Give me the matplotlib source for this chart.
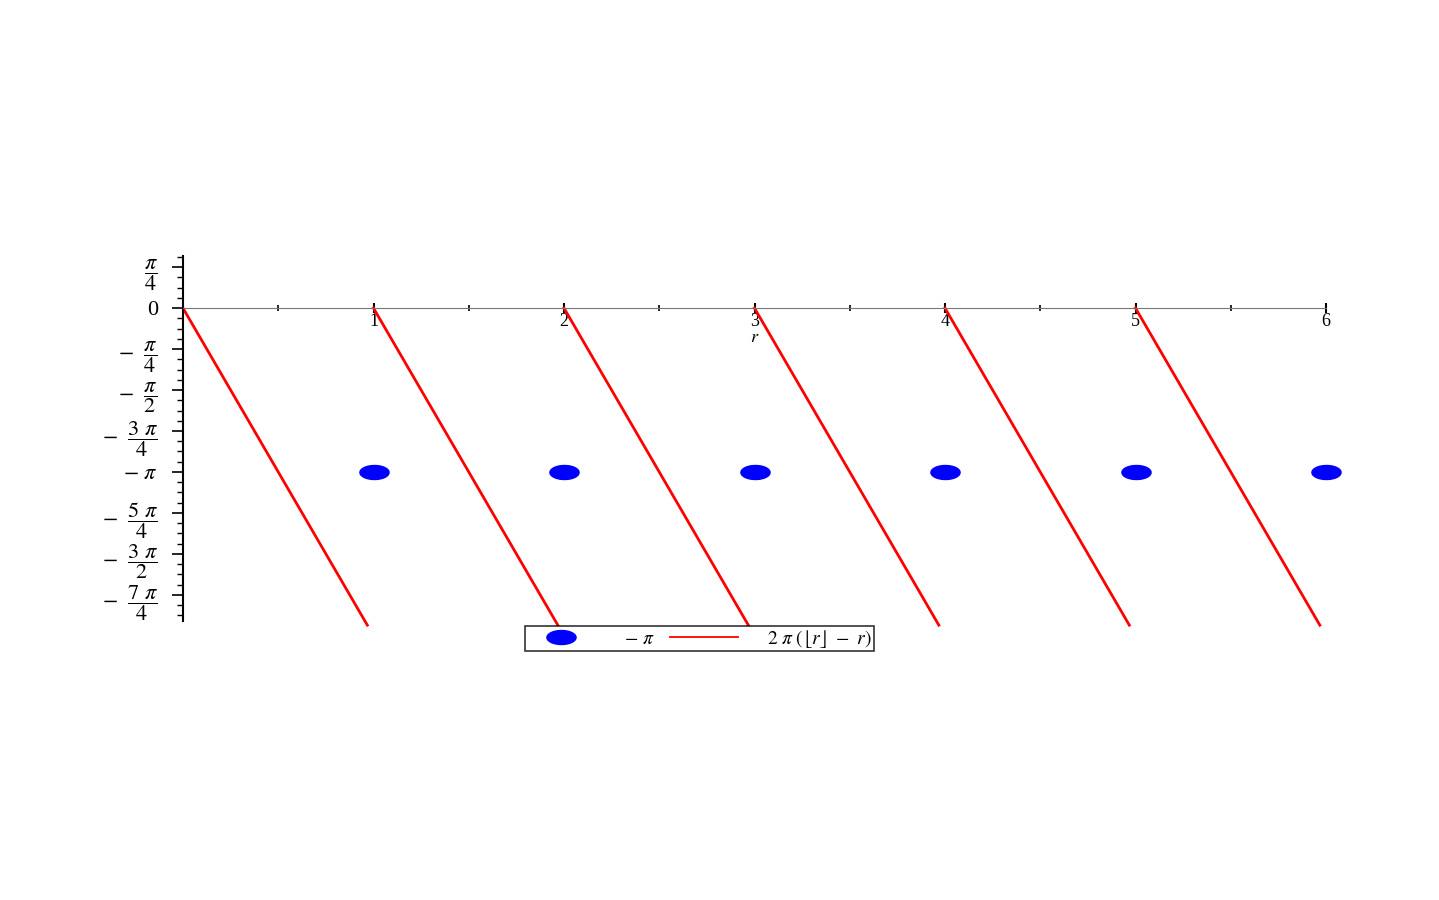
import numpy as np
import matplotlib
matplotlib.use('Agg')
import matplotlib.pyplot as plt
from matplotlib.path import Path
from matplotlib.ticker import FixedLocator, MultipleLocator

plt.rcParams['mathtext.fontset'] = 'stix'
plt.rcParams['font.family'] = ['Liberation Serif', 'DejaVu Serif']

# Data
point_r = [1, 2, 3, 4, 5, 6]
point_val = [-np.pi] * 6
seg_starts = [0, 1, 2, 3, 4, 5]
ytick_vals = [np.pi / 4, 0, -np.pi / 4, -np.pi / 2, -3 * np.pi / 4, -np.pi,
              -5 * np.pi / 4, -3 * np.pi / 2, -7 * np.pi / 4]
ytick_labels = [r'$\dfrac{\pi}{4}$', '0', r'$-\ \ \dfrac{\pi}{4}$', r'$-\ \ \dfrac{\pi}{2}$',
                r'$-\ \ \dfrac{3\ \pi}{4}$', r'$-\ \pi$', r'$-\ \ \dfrac{5\ \pi}{4}$',
                r'$-\ \ \dfrac{3\ \pi}{2}$', r'$-\ \ \dfrac{7\ \pi}{4}$']
xtick_vals = [1, 2, 3, 4, 5, 6]

W, H = 1439, 900
fig = plt.figure(figsize=(W / 100, H / 100), dpi=100)
ax = fig.add_axes([183 / W, 1 - 621 / H, (1326 - 183) / W, (621 - 256) / H])

# red sawtooth segments 2*pi*(floor(r) - r), drawn a little past the lower limit
for s in seg_starts:
    r = np.linspace(s, s + 6.08 / (2 * np.pi), 200)
    y = 2 * np.pi * (np.floor(r) - r)
    ax.plot(r, y, color='red', lw=2, clip_on=False,
            label=r'$2\ \pi\ (\lfloor r\rfloor\ -\ r)$' if s == 0 else None)

# ellipse marker
t = np.linspace(0, 2 * np.pi, 60)
ell = Path(np.column_stack([np.cos(t), 0.48 * np.sin(t)]))
ax.plot(point_r, point_val, ls='none', marker=ell, ms=21, color='blue',
        clip_on=False, label=r'$-\ \pi$', zorder=5)

ax.set_xlim(0, 6)
ax.set_ylim(-6.0, 1.0)

for sp in ['top', 'right']:
    ax.spines[sp].set_visible(False)
ax.spines['bottom'].set_position(('data', 0))
ax.spines['bottom'].set_color('#777777')
ax.spines['left'].set_linewidth(1.5)

ax.xaxis.set_major_locator(FixedLocator(xtick_vals))
ax.xaxis.set_minor_locator(MultipleLocator(0.5))
ax.set_xticklabels([str(v) for v in xtick_vals], fontsize=13)
ax.tick_params(axis='x', which='major', direction='inout', length=7, width=1.5, pad=0)
ax.tick_params(axis='x', which='minor', direction='inout', length=4, width=1.2)

ax.yaxis.set_major_locator(FixedLocator(ytick_vals))
ax.yaxis.set_minor_locator(MultipleLocator(np.pi / 16))
ax.set_yticklabels(ytick_labels, fontsize=16)
ax.tick_params(axis='y', which='major', direction='out', length=8, width=1.2, pad=10)
ax.tick_params(axis='y', which='minor', direction='out', length=4, width=1.0)

ax.text(3, -0.56, r'$r$', ha='center', va='center', fontsize=13)

handles, labels = ax.get_legend_handles_labels()
leg = fig.legend(handles[::-1], labels[::-1], ncol=2, loc='center',
                 bbox_to_anchor=((533 + 866) / 2 / W, 1 - 638.5 / H),
                 fontsize=14, frameon=True, fancybox=False, edgecolor='black',
                 handlelength=3.5, columnspacing=0.8, borderpad=0.1,
                 handletextpad=1.5)
leg.get_frame().set_linewidth(1.2)
leg.get_lines()[1].set_linewidth(1.3)

plt.savefig('out.png', dpi=100, facecolor='white')
plt.close()
